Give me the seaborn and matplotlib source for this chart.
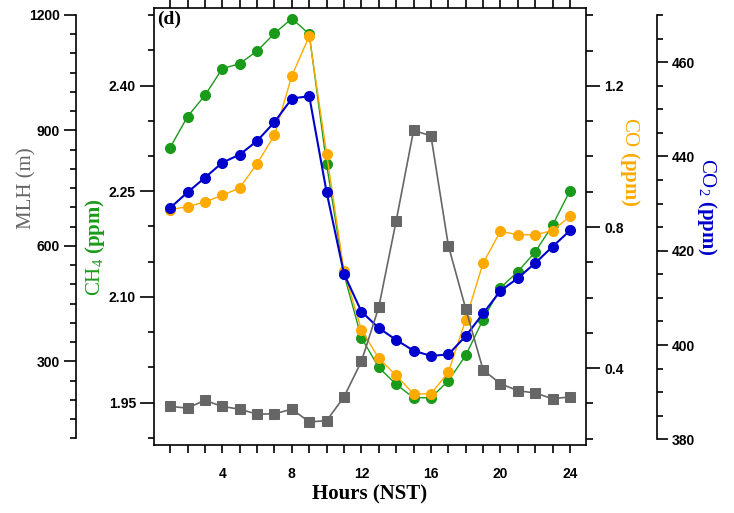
import numpy as np
import pandas as pd
import matplotlib
matplotlib.use("Agg")
import matplotlib.pyplot as plt
from matplotlib.ticker import MultipleLocator, FixedLocator
import seaborn as sns

# diurnal means
hours = list(range(1, 25))
ch4 = [2.312, 2.356, 2.386, 2.424, 2.431, 2.449, 2.474, 2.495, 2.473, 2.288, 2.132, 2.042,
       2.000, 1.976, 1.957, 1.957, 1.981, 2.017, 2.068, 2.113, 2.136, 2.164, 2.202, 2.251]
co = [0.849, 0.858, 0.871, 0.890, 0.911, 0.980, 1.060, 1.229, 1.341, 1.008, 0.674, 0.509,
      0.428, 0.379, 0.327, 0.327, 0.388, 0.537, 0.698, 0.788, 0.778, 0.778, 0.790, 0.830]
co2 = [429.1, 432.4, 435.5, 438.7, 440.4, 443.3, 447.3, 452.3, 452.8, 432.4, 415.1, 407.1,
       403.6, 401.1, 398.8, 397.7, 398.0, 401.9, 406.7, 411.5, 414.2, 417.4, 420.9, 424.3]
mlh = [183, 179, 199, 183, 176, 163, 164, 176, 143, 146, 208, 300,
       441, 665, 900, 886, 601, 437, 278, 242, 224, 218, 203, 208]

df = pd.DataFrame({"hour": hours, "ch4": ch4, "co": co, "co2": co2, "mlh": mlh})

sns.set_style("ticks")
plt.rcParams["font.family"] = ["Liberation Sans", "DejaVu Sans"]
plt.rcParams["mathtext.fontset"] = "custom"
plt.rcParams["mathtext.rm"] = "Liberation Serif"
plt.rcParams["mathtext.bf"] = "Liberation Serif:bold"
plt.rcParams["axes.linewidth"] = 1.2
plt.rcParams["axes.edgecolor"] = "black"
plt.rcParams["xtick.color"] = "black"
plt.rcParams["ytick.color"] = "black"
plt.rcParams["text.color"] = "black"

c_ch4 = "#1a9a1a"
c_co = "#ffaa00"
c_co2 = "#0000cc"
c_mlh = "#666666"

fig = plt.figure(figsize=(7.34, 5.13), dpi=100)
ax = fig.add_axes([0.2098, 0.1326, 0.5886, 0.8518])
ax_co = ax.twinx()
ax_co2 = ax.twinx()
ax_mlh = ax.twinx()

sns.lineplot(data=df, x="hour", y="ch4", ax=ax, color=c_ch4, marker="o", markersize=7.2,
             markeredgecolor=c_ch4, linewidth=1.0)
sns.lineplot(data=df, x="hour", y="co", ax=ax_co, color=c_co, marker="o", markersize=7.2,
             markeredgecolor=c_co, linewidth=1.0)
sns.lineplot(data=df, x="hour", y="co2", ax=ax_co2, color=c_co2, marker="o", markersize=7.2,
             markeredgecolor=c_co2, linewidth=1.5)
sns.lineplot(data=df, x="hour", y="mlh", ax=ax_mlh, color=c_mlh, marker="s", markersize=6.5,
             markeredgecolor=c_mlh, linewidth=1.2)

tick_font = dict(fontfamily="Liberation Sans", fontweight="bold", fontsize=10, color="black")
lab_font = dict(fontfamily="Liberation Serif", fontsize=15)

# x axis
ax.set_xlim(0.07, 24.92)
ax.xaxis.set_major_locator(FixedLocator([4, 8, 12, 16, 20, 24]))
ax.xaxis.set_minor_locator(FixedLocator(hours))
ax.tick_params(axis="x", which="both", direction="out", top=True, length=5.5, width=1.2, pad=10)
ax.set_xticks([4, 8, 12, 16, 20, 24])
ax.set_xticklabels(["4", "8", "12", "16", "20", "24"], **tick_font)
ax.set_xlabel("Hours (NST)", fontweight="bold", labelpad=3, color="black", **lab_font)

# CH4 (inner left)
ax.set_ylim(1.89, 2.51)
ax.set_yticks([1.95, 2.10, 2.25, 2.40])
ax.set_yticklabels(["1.95", "2.10", "2.25", "2.40"], **tick_font)
ax.yaxis.set_minor_locator(FixedLocator(np.arange(1.90, 2.501, 0.05)))
ax.tick_params(axis="y", which="major", length=10, width=1.2, pad=3)
ax.tick_params(axis="y", which="minor", length=4, width=1.2)
ax.spines["right"].set_visible(False)
ax.set_ylabel(r"CH$_4$ $\mathbf{(ppm)}$", color=c_ch4, rotation=90, va="center", ha="center", **lab_font)
ax.yaxis.set_label_coords(-0.137, 0.453)

# CO (inner right)
ax_co.set_ylim(0.182, 1.421)
ax_co.set_yticks([0.4, 0.8, 1.2])
ax_co.set_yticklabels(["0.4", "0.8", "1.2"], **tick_font)
ax_co.yaxis.set_minor_locator(FixedLocator(np.arange(0.2, 1.401, 0.1)))
ax_co.tick_params(axis="y", which="major", length=10, width=1.2, pad=3)
ax_co.tick_params(axis="y", which="minor", length=5, width=1.2)
for s in ["top", "bottom", "left"]:
    ax_co.spines[s].set_visible(False)
ax_co.set_ylabel(r"CO $\mathbf{(ppm)}$", color=c_co, rotation=270, va="center", ha="center", **lab_font)
ax_co.yaxis.set_label_coords(1.102, 0.648)

# CO2 (outer right)
ax_co2.set_ylim(378.8, 471.5)
ax_co2.spines["right"].set_position(("outward", 51))
ax_co2.spines["right"].set_bounds(380, 470)
ax_co2.set_yticks([380, 400, 420, 440, 460])
ax_co2.set_yticklabels(["380", "400", "420", "440", "460"], **tick_font)
ax_co2.yaxis.set_minor_locator(MultipleLocator(5))
ax_co2.tick_params(axis="y", which="major", length=8, width=1.2, pad=3)
ax_co2.tick_params(axis="y", which="minor", length=4, width=1.2)
for s in ["top", "bottom", "left"]:
    ax_co2.spines[s].set_visible(False)
ax_co2.set_ylabel(r"CO$_2$ $\mathbf{(ppm)}$", color=c_co2, rotation=270, va="center", ha="center", **lab_font)
ax_co2.yaxis.set_label_coords(1.28, 0.545)

# MLH (outer left)
ax_mlh.set_ylim(83, 1218)
ax_mlh.yaxis.set_ticks_position("left")
ax_mlh.yaxis.set_label_position("left")
ax_mlh.spines["left"].set_visible(True)
ax_mlh.spines["left"].set_position(("outward", 56))
ax_mlh.spines["left"].set_bounds(100, 1200)
for s in ["top", "bottom", "right"]:
    ax_mlh.spines[s].set_visible(False)
ax_mlh.set_yticks([300, 600, 900, 1200])
ax_mlh.set_yticklabels(["300", "600", "900", "1200"], **tick_font)
ax_mlh.yaxis.set_minor_locator(FixedLocator(np.arange(100, 1201, 50)))
ax_mlh.tick_params(axis="y", which="major", length=9, width=1.2, pad=3)
ax_mlh.tick_params(axis="y", which="minor", length=4.5, width=1.2)
ax_mlh.set_ylabel("MLH (m)", color=c_mlh, rotation=90, va="center", ha="center", **lab_font)
ax_mlh.yaxis.set_label_coords(-0.294, 0.588)

ax.text(0.007, 0.993, "(d)", transform=ax.transAxes, ha="left", va="top",
        fontfamily="Liberation Serif", fontweight="bold", fontsize=14)

fig.savefig("out.png", dpi=100)
